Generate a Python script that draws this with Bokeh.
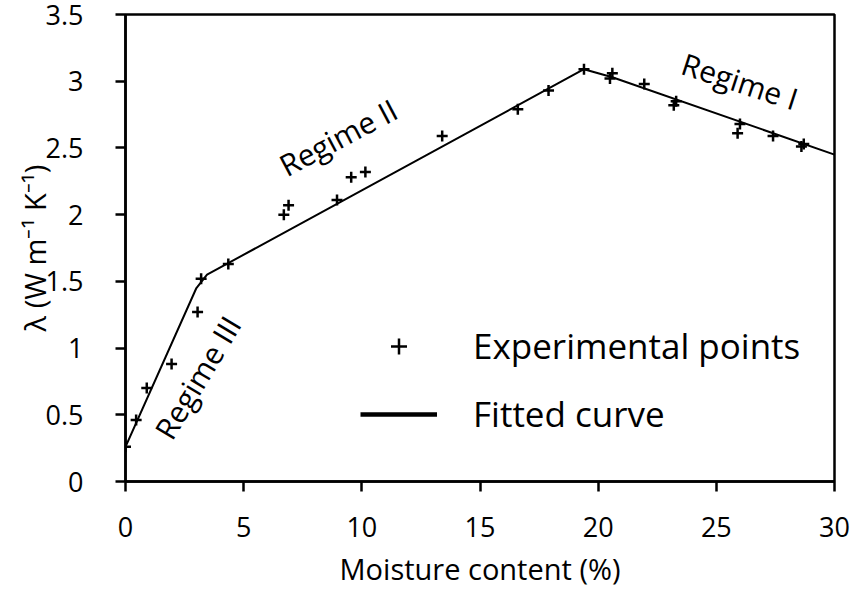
from bokeh.plotting import figure
from bokeh.models import Range1d, Legend, LegendItem, ColumnDataSource, FixedTicker
from bokeh.core.properties import value
from bokeh.embed import file_html
from bokeh.resources import INLINE
import math

# Experimental points (moisture %, lambda W/m/K)
exp_x = [0.0, 0.45, 0.9, 1.95, 3.05, 3.2, 4.35, 6.7, 6.9, 8.95, 9.55, 10.15,
         13.4, 16.6, 17.9, 19.4, 20.5, 20.6, 21.95, 23.2, 23.3, 25.9, 26.0,
         27.4, 28.6, 28.7]
exp_y = [0.26, 0.46, 0.70, 0.88, 1.27, 1.52, 1.63, 2.00, 2.07, 2.11, 2.28, 2.32,
         2.59, 2.79, 2.93, 3.09, 3.02, 3.06, 2.98, 2.82, 2.85, 2.61, 2.68,
         2.59, 2.51, 2.53]

# Fitted curve vertices
fit_x = [0.0, 3.0, 3.45, 19.4, 20.6, 30.0]
fit_y = [0.26, 1.45, 1.55, 3.09, 3.03, 2.45]

# Regime annotations
reg_text = ["Regime III", "Regime II", "Regime I"]
reg_x = [3.05, 9.0, 26.0]
reg_y = [0.78, 2.58, 3.0]
reg_angle_deg = [59, 28, -18]

x_ticks = [0, 5, 10, 15, 20, 25, 30]
y_ticks = [0, 0.5, 1, 1.5, 2, 2.5, 3, 3.5]

FONT = "Open Sans"

p = figure(width=854, height=592, output_backend="svg", toolbar_location=None,
           x_range=Range1d(0, 30), y_range=Range1d(0, 3.5),
           min_border_left=125, min_border_right=20, min_border_top=14,
           min_border_bottom=111)
p.xgrid.visible = False
p.ygrid.visible = False
p.outline_line_color = "black"
p.outline_line_width = 2.5
p.background_fill_color = "white"
p.border_fill_color = "white"

for ax in (p.xaxis[0], p.yaxis[0]):
    ax.axis_line_width = 2.5
    ax.axis_line_color = "black"
    ax.major_tick_line_width = 2.5
    ax.major_tick_line_color = "black"
    ax.major_tick_out = 10
    ax.major_tick_in = 0
    ax.minor_tick_line_color = None
    ax.major_label_text_font = FONT
    ax.major_label_text_font_size = "27px"
    ax.major_label_text_color = "black"
    ax.axis_label_text_font = FONT
    ax.axis_label_text_font_size = "29px"
    ax.axis_label_text_font_style = "normal"
    ax.axis_label_text_color = "black"

p.xaxis.ticker = FixedTicker(ticks=x_ticks)
p.yaxis.ticker = FixedTicker(ticks=y_ticks)
p.yaxis.major_label_overrides = {0: "0", 0.5: "0.5", 1: "1", 1.5: "1.5", 2: "2",
                                 2.5: "2.5", 3: "3", 3.5: "3.5"}
p.xaxis.axis_label = "Moisture content (%)"
p.yaxis.axis_label = "λ (W m⁻¹ K⁻¹)"
p.xaxis.major_label_standoff = 25
p.yaxis.major_label_standoff = 32
p.xaxis.axis_label_standoff = 9
p.yaxis.axis_label_standoff = -11

line_r = p.line(fit_x, fit_y, line_color="black", line_width=2)
pts_r = p.scatter(exp_x, exp_y, marker="cross", size=11, line_color="black",
                  line_width=2.5)
leg_line = p.line(x=[float("nan")], y=[float("nan")], line_color="black",
                  line_width=4.5)

src = ColumnDataSource(dict(x=reg_x, y=reg_y, t=reg_text,
                            a=[math.radians(a) for a in reg_angle_deg]))
p.text(x="x", y="y", text="t", angle="a", source=src,
       text_font=value(FONT), text_font_size="30px", text_color="black",
       text_align="center", text_baseline="middle")

legend = Legend(items=[LegendItem(label="Experimental points", renderers=[pts_r]),
                       LegendItem(label="Fitted curve", renderers=[leg_line])],
                location=(235, 44), glyph_width=77, glyph_height=40,
                label_height=40, label_standoff=36, spacing=21, padding=0,
                margin=0, border_line_color=None, background_fill_alpha=0,
                label_text_font=FONT, label_text_font_size="35px",
                label_text_color="black")
p.add_layout(legend)

open("out.html", "w").write(file_html(p, INLINE))
